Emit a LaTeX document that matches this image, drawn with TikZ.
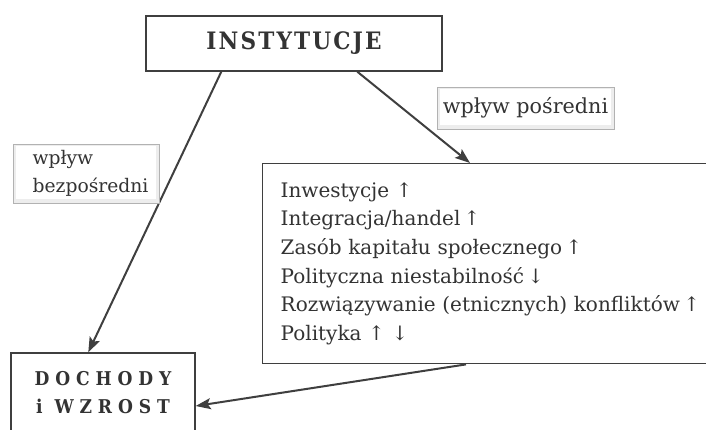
\documentclass[tikz,border=0pt]{standalone}
\usepackage{fontspec}
\setmainfont{DejaVu Serif}
\newfontfamily\condfont{DejaVu Serif Condensed}
\usetikzlibrary{arrows.meta,calc}
\definecolor{ink}{HTML}{333333}
\definecolor{edge}{HTML}{3F3F3F}
\newcommand\instfont{\condfont\fontsize{24pt}{28pt}\selectfont\bfseries\addfontfeature{LetterSpace=9}}
\newcommand\dochfont{\condfont\fontsize{19pt}{28pt}\selectfont\bfseries\addfontfeature{LetterSpace=31}}
\newcommand\listfont{\fontsize{20pt}{28.7pt}\selectfont}
\newcommand\tagfont{\fontsize{18.7pt}{28pt}\selectfont}
\newcommand\tagfontwide{\fontsize{20.7pt}{28pt}\selectfont}
\begin{document}
\begin{tikzpicture}[x=1pt,y=-1pt,
  mainbox/.style={draw=edge, line width=1.4pt, text=ink, fill=white, inner sep=0pt},
  tagbox/.style={draw=gray!60, line width=0.8pt, fill=gray!14, text=ink, inner sep=0pt,
    path picture={\fill[white] ([shift={(3pt,-2.5pt)}]path picture bounding box.north west)
                  rectangle ([shift={(-3.5pt,3.5pt)}]path picture bounding box.south east);}},
  link/.style={draw=edge, line width=2pt, -{Stealth[length=15pt,width=11pt,inset=3pt]}}]
\useasboundingbox (0,0) rectangle (706,430);
\clip (0,0) rectangle (706,430);

% main boxes
\node[mainbox, minimum width=296pt, minimum height=55pt, font=\instfont] (inst) at (294,43.5) {INSTYTUCJE};
\node[mainbox, minimum width=184pt, minimum height=79pt, align=center, font=\dochfont] (doch) at (103,392.5) {DOCHODY\\i WZROST};
\node[mainbox, anchor=north west, minimum height=200pt, text width=440pt, inner xsep=18pt,
      align=left, font=\listfont] (list) at (262,163)
  {Inwestycje ↑\\
   Integracja/handel\,↑\\
   Zasób kapitału społecznego\,↑\\
   Polityczna niestabilność\,↓\\
   Rozwiązywanie (etnicznych) konfliktów\,↑\\
   Polityka ↑ ↓};

% connectors
\draw[link] ($(inst.south west)+(76,0)$) -- ($(doch.north west)+(78,0)$);
\draw[link] ($(inst.south west)+(212,0)$) -- ($(list.north west)+(208,0)$);
\draw[link] ($(list.south west)+(204,0)$) -- ($(doch.east)+(0,13.5)$);

% labels of the two paths
\node[tagbox, minimum width=146pt, minimum height=59pt, align=left, font=\tagfont] (direct) at (86,173.5)
  {\hspace*{9pt}wpływ\\\hspace*{9pt}bezpośredni};
\node[tagbox, minimum width=177pt, minimum height=42pt, font=\tagfontwide] (indirect) at (525.5,108) {wpływ pośredni};
\end{tikzpicture}
\end{document}
